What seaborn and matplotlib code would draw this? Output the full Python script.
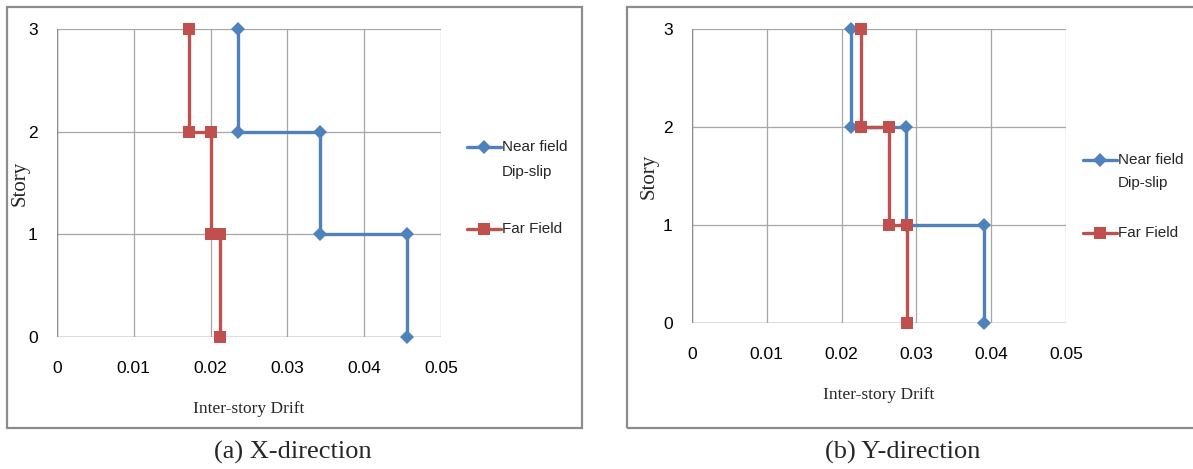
import matplotlib
matplotlib.use("Agg")
import matplotlib.pyplot as plt
import seaborn as sns
from matplotlib.patches import Rectangle
from matplotlib.lines import Line2D

# ---- data ----
story = [3, 2, 2, 1, 1, 0]

x_near = [0.0236, 0.0236, 0.0342, 0.0342, 0.0456, 0.0456]
x_far = [0.0172, 0.0172, 0.0200, 0.0200, 0.0212, 0.0212]

y_near = [0.0213, 0.0213, 0.0286, 0.0286, 0.0390, 0.0390]
y_far = [0.0226, 0.0226, 0.0263, 0.0263, 0.0288, 0.0288]

xticks = [0, 0.01, 0.02, 0.03, 0.04, 0.05]
xtick_labels = ["0", "0.01", "0.02", "0.03", "0.04", "0.05"]
yticks = [0, 1, 2, 3]

blue = "#4F81BD"
red = "#C0504D"
grid_col = "#A6A6A6"

sns.set_style("white")
plt.rcParams["font.family"] = ["Liberation Sans", "DejaVu Sans"]

W, H = 1193, 469
fig = plt.figure(figsize=(W / 100, H / 100), dpi=100)


def fx(px):
    return px / W


def fy(py):
    return 1 - py / H


# outer chart frames
for x0, x1 in [(7, 582), (627, 1196)]:
    fig.add_artist(Rectangle((fx(x0), fy(428)), fx(x1 - x0), (428 - 7) / H,
                             transform=fig.transFigure, fill=False,
                             edgecolor="#8C8C8C", linewidth=1.6, clip_on=False))

panels = [
    # (axes box in pixels, near, far, legend x, legend y's, caption, caption x, ylabel x)
    ((57, 29, 441, 337), x_near, x_far, 467, (147, 172, 229), "(a) X-direction", 293, 20),
    ((692, 29, 1066, 323), y_near, y_far, 1083, (160, 183, 233), "(b) Y-direction", 903, 649),
]

for (l, t, r, b), near, far, lx, (ly1, ly2, ly3), cap, capx, ylab_x in panels:
    ax = fig.add_axes([fx(l), fy(b), fx(r - l), (b - t) / H])
    sns.lineplot(x=near, y=story, sort=False, estimator=None, ax=ax, color=blue,
                 linewidth=2.4, marker="D", markersize=7.5, markeredgewidth=0,
                 clip_on=False, zorder=3)
    sns.lineplot(x=far, y=story, sort=False, estimator=None, ax=ax, color=red,
                 linewidth=2.4, marker="s", markersize=9, markeredgewidth=0,
                 clip_on=False, zorder=3)
    ax.set_xlim(0, 0.05)
    ax.set_ylim(0, 3)
    ax.set_xticks(xticks)
    ax.set_xticklabels(xtick_labels)
    ax.set_yticks(yticks)
    ax.grid(True, color=grid_col, linewidth=0.9)
    for s in ax.spines.values():
        s.set_visible(False)
    ax.axhline(0, color="#8C8C8C", linewidth=1.0, zorder=1)
    ax.axvline(0, color="#8C8C8C", linewidth=1.0, zorder=1)
    ax.tick_params(axis="both", length=0, labelsize=12.5, colors="black")
    ax.tick_params(axis="x", pad=17)
    ax.tick_params(axis="y", pad=14)
    ax.set_xlabel("Inter-story Drift", family="Liberation Serif", fontsize=12.5, labelpad=18)
    ax.set_ylabel("")
    fig.text(fx(ylab_x), fy((t + b) / 2), "Story", family="Liberation Serif", fontsize=15,
             rotation=90, ha="center", va="center")

    # legend drawn beside the plot area
    for yy, col, mk, ms in [(ly1, blue, "D", 7.5), (ly3, red, "s", 9)]:
        fig.add_artist(Line2D([fx(lx), fx(lx + 17), fx(lx + 34)], [fy(yy)] * 3,
                              transform=fig.transFigure, color=col, linewidth=2.4,
                              marker=mk, markersize=ms, markeredgewidth=0, markevery=[1]))
    fig.text(fx(lx + 35), fy(ly1), "Near field", fontsize=11, va="center", ha="left")
    fig.text(fx(lx + 35), fy(ly2), "Dip-slip", fontsize=11, va="center", ha="left")
    fig.text(fx(lx + 35), fy(ly3), "Far Field", fontsize=11, va="center", ha="left")

    fig.text(fx(capx), fy(452), cap, family="Liberation Serif", fontsize=19,
             ha="center", va="center")

fig.savefig("out.png", dpi=100)
